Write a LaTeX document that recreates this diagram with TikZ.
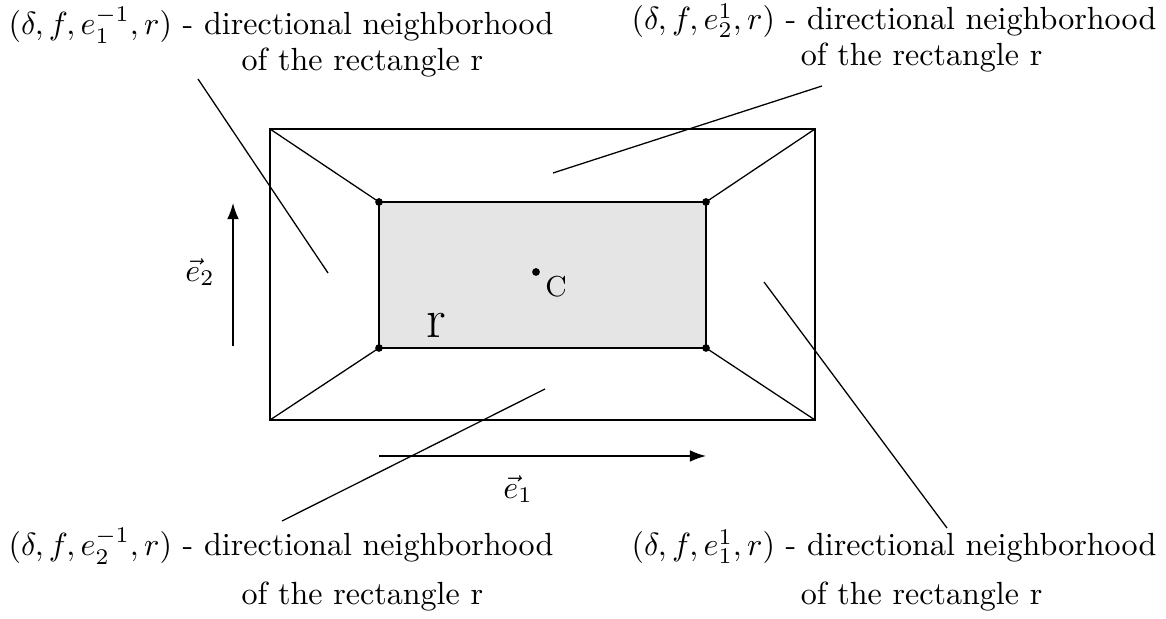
\documentclass[tikz,border=0pt]{standalone}
\usetikzlibrary{arrows.meta}
\begin{document}
\begin{tikzpicture}[x=0.312pt,y=-0.312pt,
  thin line/.style={line width=0.4pt},
  dotmark/.style={circle,fill=black,inner sep=0pt,minimum size=2.4pt},
  lbl/.style={inner sep=0pt,anchor=base west},
  rlbl/.style={inner sep=0pt,anchor=base east},
  vec/.style={line width=0.4pt,-{Latex[length=5pt,width=3.6pt]}}]
\useasboundingbox (0,0) rectangle (1166,619);
% outer rectangle corners
\coordinate (O1) at (270,129);
\coordinate (O2) at (815,129);
\coordinate (O3) at (815,420);
\coordinate (O4) at (270,420);
% inner rectangle
\draw[thin line,fill=black!10] (379,202) rectangle (706,348);
\node[dotmark] (I1) at (379,202) {};
\node[dotmark] (I2) at (706,202) {};
\node[dotmark] (I3) at (706,348) {};
\node[dotmark] (I4) at (379,348) {};
\draw[thin line] (O1) rectangle (O3);
\draw[thin line] (O1) -- (I1.center) (O2) -- (I2.center) (O3) -- (I3.center) (O4) -- (I4.center);
% centre
\node[dotmark] (c) at (536,272) {};
\node[inner sep=0pt] (clab) at (556,287) {\small C};
\node[inner sep=0pt] (rlab) at (436,325) {\LARGE r};
% vectors
\coordinate (a2s) at (233,346);
\coordinate (a2e) at (233,203);
\draw[vec] (a2s) -- (a2e);
\node[inner sep=0pt] (e2) at (200,272) {$\vec e_2$};
\coordinate (a1s) at (379,456);
\coordinate (a1e) at (706,456);
\draw[vec] (a1s) -- (a1e);
\node[inner sep=0pt] (e1) at (518,489) {$\vec e_1$};
% labels
\node[lbl] (tl1) at (8,35) {$(\delta,f,e_1^{-1},r)$ - directional neighborhood};
\node[lbl] (tl2) at (241,71) {of the rectangle r};
\node[rlbl] (tr1) at (1157,30) {$(\delta,f,e_2^{1},r)$ - directional neighborhood};
\node[rlbl] (tr2) at (1043,66) {of the rectangle r};
\node[lbl] (bl1) at (8,556) {$(\delta,f,e_2^{-1},r)$ - directional neighborhood};
\node[lbl] (bl2) at (241,605) {of the rectangle r};
\node[rlbl] (br1) at (1157,556) {$(\delta,f,e_1^{1},r)$ - directional neighborhood};
\node[rlbl] (br2) at (1043,605) {of the rectangle r};
% leader lines
\coordinate (p1s) at (198,79);
\coordinate (p1e) at (328,273);
\coordinate (p2s) at (822,86);
\coordinate (p2e) at (553,173);
\coordinate (p3s) at (282,521);
\coordinate (p3e) at (545,389);
\coordinate (p4s) at (947,528);
\coordinate (p4e) at (764,282);
\draw[thin line] (p1s) -- (p1e);
\draw[thin line] (p2s) -- (p2e);
\draw[thin line] (p3s) -- (p3e);
\draw[thin line] (p4s) -- (p4e);
\end{tikzpicture}
\end{document}
